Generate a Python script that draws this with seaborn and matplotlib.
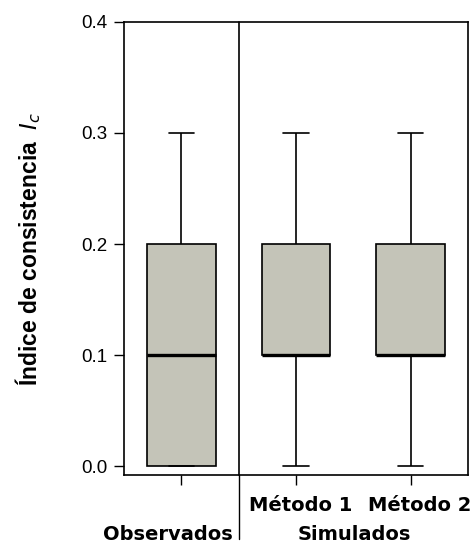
import pandas as pd
import numpy as np
import matplotlib
matplotlib.use('Agg')
import matplotlib.pyplot as plt
import seaborn as sns

# valores del índice de consistencia
observados = [0.0, 0.0, 0.1, 0.2, 0.3]
metodo1 = [0.0, 0.1, 0.1, 0.2, 0.3]
metodo2 = [0.0, 0.1, 0.1, 0.2, 0.3]
grupos = ['Observados', 'Método 1', 'Método 2']
yticks = [0.0, 0.1, 0.2, 0.3, 0.4]

df = pd.DataFrame({
    'grupo': ['Observados'] * len(observados) + ['Método 1'] * len(metodo1) + ['Método 2'] * len(metodo2),
    'Ic': observados + metodo1 + metodo2,
})

sns.set_style('white')
plt.rcParams['text.color'] = 'black'
plt.rcParams['axes.labelcolor'] = 'black'
plt.rcParams['ytick.color'] = 'black'
plt.rcParams['xtick.color'] = 'black'

fig = plt.figure(figsize=(4.75, 5.48), dpi=100)
ax = fig.add_axes([0.261, 0.133, 0.724, 0.827])

box_kws = dict(data=df, x='grupo', y='Ic', order=grupos, color='#c4c4b8', saturation=1,
               width=0.6, linecolor='black', linewidth=1.2, whis=1.5, ax=ax,
               medianprops={'linewidth': 2.4, 'color': 'black'})
try:
    sns.boxplot(**box_kws, capwidths=0.22)
except TypeError:
    ax.cla()
    sns.boxplot(**box_kws)

ax.set_xlim(-0.5, 2.5)
ax.set_ylim(-0.008, 0.4)
ax.set_yticks(yticks)
ax.set_yticklabels([f'{v:.1f}' for v in yticks], fontsize=13.5, family='Liberation Sans', color='black')
ax.set_xticks([0, 1, 2])
ax.set_xticklabels(['', '', ''])
ax.tick_params(axis='both', direction='out', length=7, width=1, color='black',
               left=True, bottom=True, pad=5)
for s in ax.spines.values():
    s.set_color('black')
    s.set_linewidth(1.2)

ax.set_xlabel('')
ax.set_ylabel(r'Índice de consistencia  $\it{I}_c$', fontsize=16.5, fontweight='bold',
              family='Liberation Sans', color='black')
ax.yaxis.set_label_coords(-0.235, 0.5)

# línea divisoria entre observados y simulados
ax.plot([0.5, 0.5], [0, 1], transform=ax.get_xaxis_transform(), color='black', lw=1.2, clip_on=False)
ax.plot([0.5, 0.5], [-0.14, 0], transform=ax.get_xaxis_transform(), color='black', lw=1.0, clip_on=False)

lab = dict(fontsize=14, fontweight='bold', family='DejaVu Sans', color='black',
           transform=ax.get_xaxis_transform(), va='center')
ax.text(0.45, -0.132, 'Observados', ha='right', **lab)
ax.text(1.04, -0.066, 'Método 1', ha='center', **lab)
ax.text(2.08, -0.066, 'Método 2', ha='center', **lab)
ax.text(1.51, -0.132, 'Simulados', ha='center', **lab)

fig.savefig('out.png', dpi=100)
